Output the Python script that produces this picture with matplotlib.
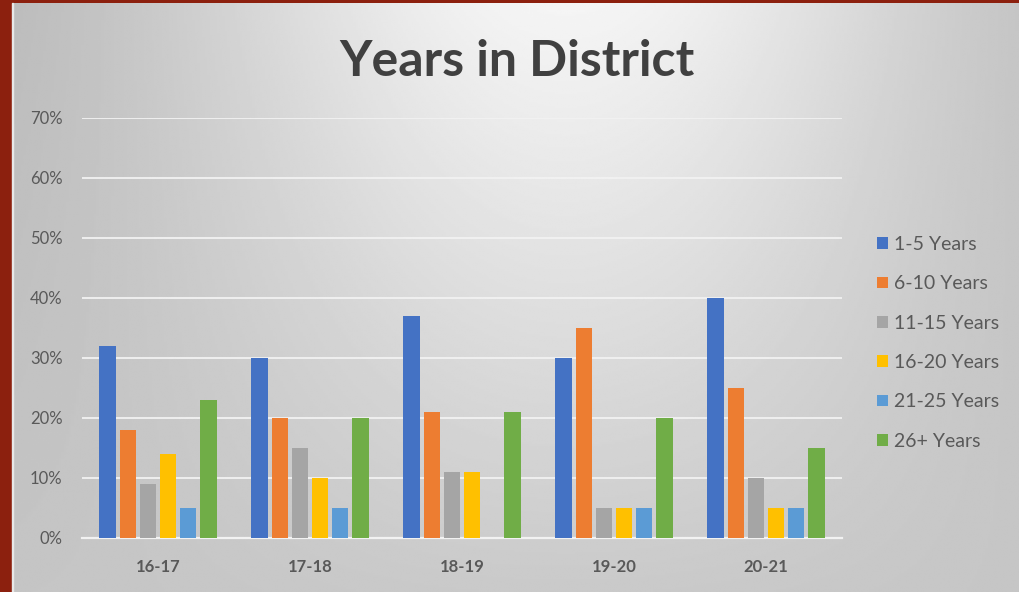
import numpy as np
import matplotlib
matplotlib.use('Agg')
import matplotlib.pyplot as plt
from matplotlib.patches import Rectangle

# ============================================================
# DATA
# ============================================================

years = ["16-17", "17-18", "18-19", "19-20", "20-21"]
groups = ["1-5 Years", "6-10 Years", "11-15 Years", "16-20 Years", "21-25 Years", "26+ Years"]

yrs_1_5   = [32, 30, 37, 30, 40]
yrs_6_10  = [18, 20, 21, 35, 25]
yrs_11_15 = [9, 15, 11, 5, 10]
yrs_16_20 = [14, 10, 11, 5, 5]
yrs_21_25 = [5, 5, 0, 5, 5]
yrs_26    = [23, 20, 21, 20, 15]

series = [yrs_1_5, yrs_6_10, yrs_11_15, yrs_16_20, yrs_21_25, yrs_26]

COLORS = ["#4472C4", "#ED7D31", "#A5A5A5", "#FFC000", "#5B9BD5", "#70AD47"]

BORDER = "#8C200E"
TEXT = "#595959"

plt.rcParams['font.family'] = ['Lato', 'DejaVu Sans']

fig = plt.figure(figsize=(10.19, 5.92), dpi=100)
fig.patch.set_facecolor(BORDER)

# ------------------------------------------------------------
# gradient background
# ------------------------------------------------------------
W, H = 1019, 592
left_px, top_px = 12, 3
bg = fig.add_axes([left_px / W, 0, 1 - left_px / W, 1 - top_px / H])
gx = np.linspace(0, 1, 400)
gy = np.linspace(0, 1, 300)
X, Y = np.meshgrid(gx, gy)
centre = 0.96 - 0.17 * Y
edge = 0.70 + 0.07 * Y
val = edge + (centre - edge) * np.exp(-((X - 0.55) / 0.40) ** 2)
bg.imshow(val, cmap="gray", vmin=0, vmax=1, aspect="auto",
          extent=[0, 1, 1, 0], interpolation="bilinear")
bg.set_axis_off()
# thin light line next to the border
fig.patches.append(Rectangle((left_px / W, 0), 1.2 / W, 1 - top_px / H,
                             transform=fig.transFigure, color="#e8e8e8", zorder=5))

# ------------------------------------------------------------
# chart
# ------------------------------------------------------------
ax = fig.add_axes([82 / W, 1 - 538 / H, 760 / W, 420 / H])
ax.patch.set_alpha(0)

x = np.arange(len(years))
step = 0.1325
width = 0.108
for i, (vals, col, lab) in enumerate(zip(series, COLORS, groups)):
    ax.bar(x + (i - 2.5) * step, vals, width=width, color=col, label=lab, zorder=3)

ax.set_xlim(-0.5, len(years) - 0.5)
ax.set_ylim(0, 70)
ax.set_yticks(range(0, 71, 10))
ax.set_yticklabels([f"{v}%" for v in range(0, 71, 10)])
ax.set_xticks(x)
ax.set_xticklabels(years, fontweight="bold")

ax.grid(axis="y", color="#f2f2f2", linewidth=1.3, zorder=1)
ax.tick_params(axis="y", length=0, pad=14, labelsize=12, labelcolor=TEXT)
ax.tick_params(axis="x", length=0, pad=15, labelsize=12, labelcolor=TEXT)
for s in ["top", "right", "left"]:
    ax.spines[s].set_visible(False)
ax.spines["bottom"].set_color("#f2f2f2")
ax.spines["bottom"].set_linewidth(1.6)

fig.text(0.507, 0.896, "Years in District", ha="center", va="center",
         fontsize=36, fontweight="bold", color="#404040")

ax.legend(loc="upper left", bbox_to_anchor=(877 / W, 1 - 236 / H),
          bbox_transform=fig.transFigure, frameon=False, fontsize=14,
          handlelength=0.55, handleheight=0.55, handletextpad=0.35,
          labelspacing=1.15, labelcolor=TEXT, borderaxespad=0, borderpad=0)

plt.savefig("out.png", dpi=100, facecolor=BORDER)
plt.close()
